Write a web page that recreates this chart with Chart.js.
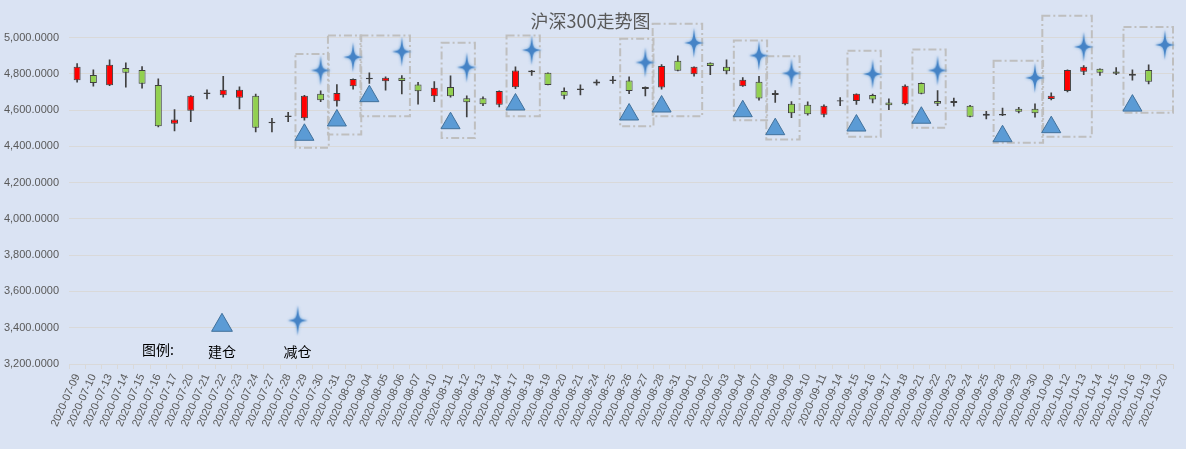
<!DOCTYPE html>
<html><head><meta charset="utf-8">
<script src="https://cdn.jsdelivr.net/npm/chart.js@4.4.1/dist/chart.umd.min.js"></script>
<style>html,body{margin:0;padding:0;background:#DAE3F3;overflow:hidden}</style>
</head><body>
<canvas id="c" width="1186" height="449" style="width:1186px;height:449px;display:block"></canvas>
<script>
const dates = ['2020-07-09','2020-07-10','2020-07-13','2020-07-14','2020-07-15','2020-07-16','2020-07-17','2020-07-20','2020-07-21','2020-07-22','2020-07-23','2020-07-24','2020-07-27','2020-07-28','2020-07-29','2020-07-30','2020-07-31',
'2020-08-03','2020-08-04','2020-08-05','2020-08-06','2020-08-07','2020-08-10','2020-08-11','2020-08-12','2020-08-13','2020-08-14','2020-08-17','2020-08-18','2020-08-19','2020-08-20','2020-08-21','2020-08-24','2020-08-25','2020-08-26','2020-08-27','2020-08-28','2020-08-31',
'2020-09-01','2020-09-02','2020-09-03','2020-09-04','2020-09-07','2020-09-08','2020-09-09','2020-09-10','2020-09-11','2020-09-14','2020-09-15','2020-09-16','2020-09-17','2020-09-18','2020-09-21','2020-09-22','2020-09-23','2020-09-24','2020-09-25','2020-09-28','2020-09-29','2020-09-30',
'2020-10-09','2020-10-12','2020-10-13','2020-10-14','2020-10-15','2020-10-16','2020-10-19','2020-10-20'];

const openP = [4765,4794,4737,4833,4822,4739,4525,4596,4689,4682,4668,4679,4528,4562,4555,4690,4649,
4732,4770,4759,4778,4741,4677,4728,4666,4666,4629,4726,4809,4806,4706,4711,4747,4761,4763,4717,4725,4872,
4798,4861,4839,4732,4756,4684,4635,4629,4574,4647,4651,4684,4642,4633,4750,4651,4640,4624,4580,4571,4607,4607,
4662,4706,4811,4828,4813,4800,4822,null];
const highP = [4857,4822,4877,4861,4840,4772,4603,4680,4712,4787,4728,4688,4555,4588,4681,4706,4741,
4773,4806,4784,4791,4754,4758,4789,4679,4673,4707,4839,4819,4806,4723,4739,4767,4787,4784,4729,4851,4899,
4839,4861,4877,4780,4787,4708,4647,4646,4629,4669,4690,4688,4662,4739,4751,4708,4666,4627,4594,4611,4616,4635,
4695,4822,4846,4828,4835,4822,4850,null];
const lowP = [4754,4732,4735,4726,4721,4508,4486,4536,4662,4671,4607,4480,4480,4536,4544,4647,4622,
4715,4747,4710,4690,4633,4646,4671,4563,4624,4618,4719,4791,4739,4662,4684,4737,4747,4691,4679,4715,4816,
4787,4795,4800,4731,4655,4642,4558,4572,4563,4625,4631,4640,4603,4629,4689,4624,4622,4563,4552,4570,4585,4561,
4657,4700,4795,4792,4795,4765,4745,null];
const closeP = [4839,4750,4850,4806,4745,4511,4548,4679,4697,4712,4712,4503,4536,4570,4679,4655,4695,
4772,4778,4778,4761,4704,4723,4677,4644,4633,4706,4818,4818,4739,4679,4719,4758,4769,4706,4728,4844,4817,
4839,4844,4814,4767,4664,4695,4583,4577,4624,4655,4690,4658,4627,4734,4690,4635,4651,4563,4569,4579,4591,4583,
4679,4822,4839,4806,4800,4789,4756,null];

// 建仓 (buy) and 减仓 (sell) signals
const buyDates = ['2020-07-29','2020-07-31','2020-08-04','2020-08-11','2020-08-17','2020-08-26','2020-08-28','2020-09-04','2020-09-08','2020-09-15','2020-09-21','2020-09-28','2020-10-09','2020-10-16'];
const buyLevels = [4464,4543,4677,4528,4631,4576,4620,4594,4495,4515,4558,4456,4506,4625];
const sellDates = ['2020-07-30','2020-08-03','2020-08-06','2020-08-12','2020-08-18','2020-08-27','2020-09-01','2020-09-07','2020-09-09','2020-09-16','2020-09-22','2020-09-30','2020-10-13','2020-10-20'];
const sellLevels = [4819,4892,4923,4836,4931,4863,4971,4901,4803,4799,4819,4778,4949,4960];
// dashed frames around each buy/sell pair (price range)
const boxTop = [4910,5011,5011,4971,5011,4993,5077,4984,4897,4928,4934,4873,5121,5059];
const boxBottom = [4392,4466,4566,4447,4566,4511,4566,4544,4438,4453,4503,4420,4453,4585];

const yMin = 3200, yMax = 5000, yStep = 200;
const titleText = '沪深300走势图';
const legendTitle = '图例:';
const buyLabel = '建仓';
const sellLabel = '减仓';

const UP = '#FF0000', DOWN = '#92D050', EDGE = '#404040';
const TRI_FILL = '#5B9BD5', TRI_EDGE = '#41719C';

function makeStar(w, h) {
  const pad = 3;
  const c = document.createElement('canvas');
  c.width = w + pad * 2; c.height = h + pad * 2;
  const g = c.getContext('2d');
  const cx = c.width / 2, cy = c.height / 2, rx = w / 2, ry = h / 2, k = 1.3;
  g.shadowColor = 'rgba(91,155,213,0.9)';
  g.shadowBlur = 3;
  g.beginPath();
  g.moveTo(cx, cy - ry);
  g.bezierCurveTo(cx + k, cy - k, cx + k, cy - k, cx + rx, cy);
  g.bezierCurveTo(cx + k, cy + k, cx + k, cy + k, cx, cy + ry);
  g.bezierCurveTo(cx - k, cy + k, cx - k, cy + k, cx - rx, cy);
  g.bezierCurveTo(cx - k, cy - k, cx - k, cy - k, cx, cy - ry);
  g.closePath();
  g.fillStyle = '#4583C6';
  g.fill();
  return c;
}
const starImg = makeStar(20, 30);

function drawTriangle(ctx, x, y, r) {
  ctx.beginPath();
  let a = 0;
  ctx.moveTo(x + Math.sin(a) * r, y - Math.cos(a) * r);
  a += 2 * Math.PI / 3;
  ctx.lineTo(x + Math.sin(a) * r, y - Math.cos(a) * r);
  a += 2 * Math.PI / 3;
  ctx.lineTo(x + Math.sin(a) * r, y - Math.cos(a) * r);
  ctx.closePath();
  ctx.fillStyle = TRI_FILL; ctx.fill();
  ctx.lineWidth = 1; ctx.strokeStyle = TRI_EDGE; ctx.stroke();
}

const bodies = dates.map((d, i) => openP[i] == null ? null : [openP[i], closeP[i]]);
const wicks = dates.map((d, i) => lowP[i] == null ? null : [lowP[i], highP[i]]);
const bodyColors = dates.map((d, i) => (closeP[i] >= openP[i]) ? UP : DOWN);

const bgPlugin = {
  id: 'bg',
  beforeDraw(chart) {
    const { ctx, width, height } = chart;
    ctx.save(); ctx.fillStyle = '#DAE3F3'; ctx.fillRect(0, 0, width, height); ctx.restore();
  }
};

const boxPlugin = {
  id: 'boxes',
  beforeDatasetsDraw(chart) {
    const { ctx } = chart;
    const xs = chart.scales.x, ys = chart.scales.y;
    const step = xs.getPixelForValue(1) - xs.getPixelForValue(0);
    ctx.save();
    ctx.strokeStyle = '#BFBFBF';
    ctx.lineWidth = 2;
    ctx.setLineDash([8, 3, 2, 3]);
    for (let i = 0; i < buyDates.length; i++) {
      const x1 = xs.getPixelForValue(dates.indexOf(buyDates[i])) - 0.55 * step;
      const x2 = xs.getPixelForValue(dates.indexOf(sellDates[i])) + 0.5 * step;
      const y1 = ys.getPixelForValue(boxTop[i]);
      const y2 = ys.getPixelForValue(boxBottom[i]);
      ctx.strokeRect(x1, y1, x2 - x1, y2 - y1);
    }
    ctx.restore();
  }
};

const legendPlugin = {
  id: 'customLegend',
  afterDraw(chart) {
    const { ctx, chartArea } = chart;
    const L = chartArea.left, B = chartArea.bottom;
    ctx.save();
    ctx.font = '14px "Noto Sans CJK SC"';
    ctx.fillStyle = '#000000';
    ctx.textAlign = 'center';
    ctx.textBaseline = 'middle';
    ctx.fillText(legendTitle, L + 89, B - 14);
    ctx.fillText(buyLabel, L + 153, B - 12);
    ctx.fillText(sellLabel, L + 228.5, B - 12.5);
    drawTriangle(ctx, L + 153, B - 38.7, 12);
    ctx.drawImage(starImg, L + 228.7 - starImg.width / 2, B - 43.5 - starImg.height / 2);
    ctx.restore();
  }
};

new Chart(document.getElementById('c'), {
  type: 'bar',
  data: {
    labels: dates,
    datasets: [
      {
        label: 'buy', type: 'line', showLine: false, clip: false, order: -2,
        data: buyDates.map((d, i) => ({ x: d, y: buyLevels[i] })),
        pointStyle: 'triangle', pointRadius: 11, pointHoverRadius: 11,
        pointBackgroundColor: TRI_FILL, pointBorderColor: TRI_EDGE, pointBorderWidth: 1
      },
      {
        label: 'sell', type: 'line', showLine: false, clip: false, order: -1,
        data: sellDates.map((d, i) => ({ x: d, y: sellLevels[i] })),
        pointStyle: starImg, pointRadius: 12, pointHoverRadius: 12
      },
      {
        label: 'body', data: bodies, grouped: false, order: 0,
        barThickness: 7, backgroundColor: bodyColors, borderColor: EDGE,
        borderWidth: 1, borderSkipped: false, inflateAmount: 0
      },
      {
        label: 'wick', data: wicks, grouped: false, order: 1,
        barThickness: 1, backgroundColor: EDGE, borderWidth: 0
      }
    ]
  },
  options: {
    responsive: false,
    animation: false,
    events: [],
    layout: { padding: { left: 3, right: 8, top: 0, bottom: 0 } },
    plugins: {
      legend: { display: false },
      tooltip: { enabled: false },
      title: {
        display: true, text: titleText, color: '#595959',
        font: { size: 18, family: '"Noto Sans CJK SC"', weight: 'normal' },
        padding: { top: 10, bottom: 6 }
      }
    },
    scales: {
      x: {
        offset: true,
        grid: { display: true, drawOnChartArea: false, drawTicks: true, tickLength: 5, color: '#D9D9D9', offset: true },
        border: { display: true, color: '#D9D9D9' },
        ticks: {
          autoSkip: false, minRotation: 66, maxRotation: 66, padding: 3,
          color: '#595959', font: { size: 11, family: '"Liberation Sans"' }
        },
        afterFit(s) { s.height = 85; }
      },
      y: {
        min: yMin, max: yMax,
        grid: { color: '#D9D9D9', drawTicks: false },
        border: { display: false },
        ticks: {
          stepSize: yStep, padding: 10, color: '#595959',
          font: { size: 11, family: '"Liberation Sans"' },
          callback: v => v.toLocaleString('en-US', { minimumFractionDigits: 4, maximumFractionDigits: 4 })
        },
        afterFit(s) { s.width = 66; }
      }
    }
  },
  plugins: [bgPlugin, boxPlugin, legendPlugin]
});
</script>
</body></html>
